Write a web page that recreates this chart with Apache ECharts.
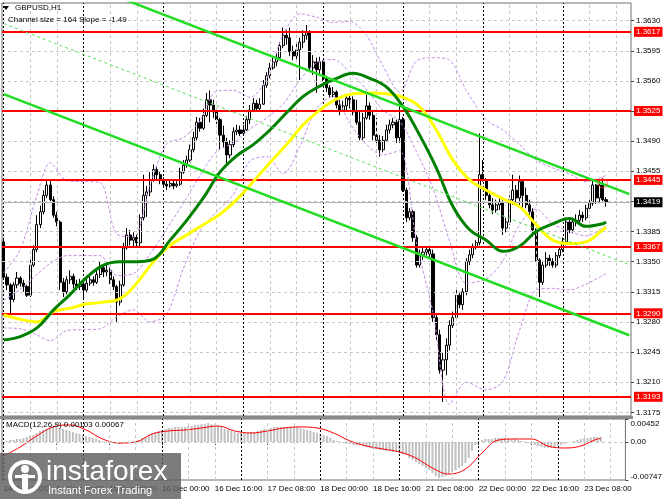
<!DOCTYPE html>
<html><head><meta charset="utf-8">
<script src="https://cdn.jsdelivr.net/npm/echarts@6/dist/echarts.min.js"></script>
<style>html,body{margin:0;padding:0;background:#fff}#c{width:665px;height:499px}</style>
</head><body><div id="c"></div>
<script>
// ---------- DATA ----------
const opens = [1.3373,1.3332,1.3323,1.3306,1.3323,1.3331,1.3325,1.3321,1.3311,1.3346,1.3364,1.3393,1.3408,1.3427,1.3439,1.3422,1.3404,1.3396,1.3326,1.3315,1.3329,1.3333,1.3324,1.3321,1.3324,1.3317,1.3325,1.3329,1.3326,1.3335,1.3343,1.3338,1.3340,1.3329,1.3321,1.3303,1.3323,1.3366,1.3381,1.3375,1.3378,1.3372,1.3401,1.3427,1.3431,1.3445,1.3457,1.3451,1.3445,1.3440,1.3438,1.3441,1.3438,1.3440,1.3454,1.3462,1.3468,1.3480,1.3494,1.3512,1.3505,1.3520,1.3538,1.3532,1.3524,1.3515,1.3497,1.3489,1.3474,1.3486,1.3501,1.3503,1.3499,1.3503,1.3515,1.3526,1.3534,1.3528,1.3533,1.3555,1.3566,1.3575,1.3582,1.3587,1.3601,1.3613,1.3610,1.3594,1.3589,1.3596,1.3605,1.3613,1.3616,1.3575,1.3582,1.3573,1.3582,1.3563,1.3552,1.3544,1.3547,1.3532,1.3526,1.3531,1.3540,1.3538,1.3524,1.3512,1.3494,1.3517,1.3531,1.3520,1.3497,1.3491,1.3480,1.3491,1.3503,1.3509,1.3512,1.3494,1.3515,1.3433,1.3401,1.3408,1.3378,1.3346,1.3358,1.3361,1.3364,1.3359,1.3285,1.3265,1.3224,1.3236,1.3253,1.3276,1.3285,1.3311,1.3300,1.3315,1.3350,1.3358,1.3367,1.3372,1.3451,1.3445,1.3427,1.3416,1.3410,1.3416,1.3419,1.3389,1.3396,1.3422,1.3433,1.3424,1.3443,1.3427,1.3416,1.3408,1.3387,1.3352,1.3326,1.3346,1.3354,1.3350,1.3346,1.3357,1.3364,1.3373,1.3396,1.3387,1.3396,1.3398,1.3404,1.3401,1.3412,1.3418,1.3439,1.3424,1.3439,1.3422];
const closes = [1.3332,1.3323,1.3306,1.3323,1.3331,1.3325,1.3321,1.3311,1.3346,1.3364,1.3393,1.3408,1.3427,1.3439,1.3422,1.3404,1.3396,1.3326,1.3315,1.3329,1.3333,1.3324,1.3321,1.3324,1.3317,1.3325,1.3329,1.3326,1.3335,1.3343,1.3338,1.3340,1.3329,1.3321,1.3303,1.3323,1.3366,1.3381,1.3375,1.3378,1.3372,1.3401,1.3427,1.3431,1.3445,1.3457,1.3451,1.3445,1.3440,1.3438,1.3441,1.3438,1.3440,1.3454,1.3462,1.3468,1.3480,1.3494,1.3512,1.3505,1.3520,1.3538,1.3532,1.3524,1.3515,1.3497,1.3489,1.3474,1.3486,1.3501,1.3503,1.3499,1.3503,1.3515,1.3526,1.3534,1.3528,1.3533,1.3555,1.3566,1.3575,1.3582,1.3587,1.3601,1.3613,1.3610,1.3594,1.3589,1.3596,1.3605,1.3613,1.3616,1.3575,1.3582,1.3573,1.3582,1.3563,1.3552,1.3544,1.3547,1.3532,1.3526,1.3531,1.3540,1.3538,1.3524,1.3512,1.3494,1.3517,1.3531,1.3520,1.3497,1.3491,1.3480,1.3491,1.3503,1.3509,1.3512,1.3494,1.3515,1.3433,1.3401,1.3408,1.3378,1.3346,1.3358,1.3361,1.3364,1.3359,1.3285,1.3265,1.3224,1.3236,1.3253,1.3276,1.3285,1.3311,1.3300,1.3315,1.3350,1.3358,1.3367,1.3372,1.3451,1.3445,1.3427,1.3416,1.3410,1.3416,1.3419,1.3389,1.3396,1.3422,1.3433,1.3424,1.3443,1.3427,1.3416,1.3408,1.3387,1.3352,1.3326,1.3346,1.3354,1.3350,1.3346,1.3357,1.3364,1.3373,1.3396,1.3387,1.3396,1.3398,1.3404,1.3401,1.3412,1.3418,1.3439,1.3424,1.3439,1.3422,1.3419];
const highs = [1.3378,1.3336,1.3325,1.3326,1.3338,1.3333,1.3329,1.3323,1.3352,1.3369,1.3404,1.3415,1.3433,1.3445,1.3446,1.3426,1.3408,1.3398,1.3331,1.3333,1.3340,1.3336,1.3329,1.3330,1.3326,1.3331,1.3335,1.3333,1.3340,1.3350,1.3346,1.3347,1.3344,1.3333,1.3323,1.3328,1.3372,1.3389,1.3387,1.3384,1.3382,1.3405,1.3451,1.3438,1.3454,1.3463,1.3461,1.3454,1.3448,1.3445,1.3446,1.3444,1.3445,1.3459,1.3468,1.3473,1.3486,1.3501,1.3518,1.3517,1.3528,1.3546,1.3549,1.3538,1.3528,1.3517,1.3508,1.3494,1.3491,1.3506,1.3509,1.3508,1.3509,1.3519,1.3532,1.3540,1.3538,1.3540,1.3561,1.3570,1.3581,1.3587,1.3592,1.3605,1.3622,1.3619,1.3622,1.3601,1.3603,1.3610,1.3619,1.3625,1.3619,1.3590,1.3587,1.3588,1.3584,1.3566,1.3555,1.3553,1.3549,1.3538,1.3537,1.3544,1.3545,1.3542,1.3538,1.3524,1.3523,1.3544,1.3535,1.3524,1.3517,1.3497,1.3496,1.3509,1.3515,1.3517,1.3515,1.3532,1.3518,1.3436,1.3412,1.3410,1.3381,1.3364,1.3366,1.3368,1.3366,1.3364,1.3288,1.3271,1.3245,1.3261,1.3282,1.3292,1.3317,1.3315,1.3319,1.3354,1.3364,1.3371,1.3375,1.3499,1.3468,1.3447,1.3433,1.3424,1.3422,1.3424,1.3422,1.3401,1.3427,1.3451,1.3439,1.3450,1.3445,1.3436,1.3422,1.3412,1.3389,1.3354,1.3350,1.3361,1.3358,1.3354,1.3361,1.3368,1.3378,1.3401,1.3401,1.3401,1.3405,1.3410,1.3408,1.3416,1.3424,1.3445,1.3440,1.3445,1.3447,1.3425];
const lows = [1.3330,1.3317,1.3290,1.3303,1.3319,1.3321,1.3315,1.3309,1.3309,1.3344,1.3361,1.3389,1.3405,1.3424,1.3418,1.3401,1.3391,1.3317,1.3309,1.3312,1.3324,1.3319,1.3317,1.3317,1.3306,1.3315,1.3322,1.3322,1.3324,1.3331,1.3332,1.3333,1.3324,1.3317,1.3280,1.3299,1.3321,1.3364,1.3369,1.3368,1.3366,1.3368,1.3398,1.3402,1.3426,1.3443,1.3445,1.3440,1.3436,1.3433,1.3436,1.3434,1.3436,1.3438,1.3452,1.3459,1.3466,1.3477,1.3491,1.3501,1.3503,1.3518,1.3512,1.3517,1.3510,1.3480,1.3482,1.3460,1.3470,1.3483,1.3497,1.3496,1.3496,1.3502,1.3510,1.3524,1.3524,1.3526,1.3532,1.3552,1.3563,1.3573,1.3577,1.3584,1.3598,1.3602,1.3589,1.3584,1.3584,1.3561,1.3598,1.3608,1.3570,1.3567,1.3546,1.3568,1.3559,1.3547,1.3540,1.3541,1.3528,1.3520,1.3524,1.3524,1.3528,1.3520,1.3509,1.3491,1.3491,1.3515,1.3515,1.3491,1.3486,1.3472,1.3477,1.3489,1.3499,1.3505,1.3488,1.3488,1.3431,1.3396,1.3398,1.3373,1.3343,1.3343,1.3352,1.3357,1.3355,1.3280,1.3259,1.3220,1.3187,1.3218,1.3247,1.3273,1.3282,1.3296,1.3294,1.3311,1.3346,1.3354,1.3364,1.3369,1.3443,1.3422,1.3412,1.3405,1.3407,1.3410,1.3381,1.3384,1.3393,1.3416,1.3419,1.3416,1.3410,1.3412,1.3404,1.3379,1.3350,1.3309,1.3323,1.3343,1.3345,1.3343,1.3343,1.3354,1.3361,1.3369,1.3383,1.3383,1.3391,1.3396,1.3396,1.3398,1.3410,1.3415,1.3417,1.3418,1.3419,1.3414];

// moving averages & Bollinger bands, [bar index, price]
const maGreen = [[0,1.3259],[5,1.3263],[10,1.3273],[15,1.3294],[20,1.3312],[25,1.3332],[30,1.3346],[35,1.3350],[40,1.3350],[45,1.3353],[50,1.3375],[55,1.3398],[60,1.3424],[65,1.3454],[70,1.3473],[75,1.3486],[80,1.3503],[85,1.3523],[90,1.3542],[95,1.3554],[100,1.3563],[105,1.3569],[110,1.3563],[115,1.3553],[120,1.3530],[125,1.3497],[130,1.3459],[135,1.3414],[140,1.3387],[145,1.3375],[150,1.3362],[155,1.3368],[160,1.3385],[165,1.3394],[170,1.3400],[175,1.3391],[180,1.3394],[181,1.3396]];
const maYellow = [[0,1.3288],[5,1.3283],[10,1.3280],[15,1.3292],[20,1.3296],[25,1.3301],[30,1.3303],[35,1.3307],[40,1.3325],[45,1.3350],[50,1.3369],[55,1.3381],[60,1.3393],[65,1.3405],[70,1.3422],[75,1.3443],[80,1.3465],[85,1.3486],[90,1.3509],[95,1.3526],[100,1.3539],[105,1.3545],[110,1.3546],[115,1.3545],[120,1.3541],[125,1.3530],[130,1.3503],[135,1.3468],[140,1.3445],[145,1.3433],[150,1.3423],[155,1.3414],[160,1.3393],[165,1.3375],[170,1.3371],[175,1.3373],[180,1.3387],[181,1.3390]];
const bandUpper = [[0,1.3337],[5,1.3364],[10,1.3427],[14,1.3465],[19,1.3444],[24,1.3443],[29,1.3442],[34,1.3382],[39,1.3379],[44,1.3439],[49,1.3487],[54,1.3494],[59,1.3514],[64,1.3548],[69,1.3549],[74,1.3541],[79,1.3562],[84,1.3614],[89,1.3638],[94,1.3634],[99,1.3628],[104,1.3629],[109,1.3613],[114,1.3577],[119,1.3547],[124,1.3583],[129,1.3587],[134,1.3584],[139,1.3549],[145,1.3515],[150,1.3503],[155,1.3486],[160,1.3468],[165,1.3459],[170,1.3452],[175,1.3443],[181,1.3450]];
const bandMid = [[0,1.3305],[5,1.3318],[10,1.3335],[14,1.3348],[19,1.3357],[24,1.3357],[29,1.3357],[34,1.3334],[39,1.3336],[44,1.3359],[49,1.3388],[54,1.3418],[59,1.3450],[64,1.3478],[69,1.3488],[74,1.3504],[79,1.3517],[84,1.3533],[89,1.3561],[94,1.3581],[99,1.3585],[104,1.3570],[109,1.3550],[114,1.3526],[119,1.3513],[124,1.3478],[129,1.3435],[134,1.3374],[139,1.3325],[145,1.3330],[150,1.3351],[155,1.3393],[160,1.3411],[165,1.3394],[170,1.3385],[175,1.3380],[181,1.3392]];
const bandLower = [[0,1.3273],[5,1.3272],[10,1.3265],[14,1.3258],[19,1.3270],[24,1.3271],[29,1.3272],[34,1.3286],[39,1.3294],[44,1.3280],[49,1.3289],[54,1.3342],[59,1.3386],[64,1.3408],[69,1.3428],[74,1.3467],[79,1.3472],[84,1.3452],[89,1.3484],[94,1.3528],[99,1.3542],[104,1.3511],[109,1.3486],[114,1.3474],[119,1.3479],[124,1.3373],[129,1.3291],[134,1.3184],[139,1.3210],[145,1.3201],[150,1.3211],[155,1.3270],[160,1.3317],[165,1.3319],[170,1.3317],[175,1.3324],[181,1.3336]];

// equidistant channel (size 164 pips, slope -1.49)
const channelUpper = [[0,1.37086],[188,1.34285]];
const channelMid = [[0,1.36266],[188,1.33465]];
const channelLower = [[0,1.35446],[188,1.32645]];

const levels = [1.3617,1.3525,1.3445,1.3367,1.3290,1.3193];
const lastPrice = 1.3419;
const alertMark = [[180,1.3441]];

const gridPrices = [1.3175,1.3210,1.3245,1.3280,1.3315,1.3350,1.3385,1.3420,1.3455,1.3490,1.3525,1.3560,1.3595,1.3630];
const priceLabels = [1.3175,1.3210,1.3245,1.3280,1.3315,1.3350,1.3385,1.3455,1.3490,1.3560,1.3595,1.3630];
const gridBars = [8,16,32,40,56,64,80,88,104,112,128,136,152,160,176,184];
const sepBars = [0,24,48,72,96,120,144,168];
const timeLabelIdx = [0,16,32,48,64,80,96,112,128,144,160,176];
const timeLabels = ['14 Dec 2020','14 Dec 16:00','15 Dec 08:00','16 Dec 00:00','16 Dec 16:00','17 Dec 08:00','18 Dec 00:00','18 Dec 16:00','21 Dec 08:00','22 Dec 00:00','22 Dec 16:00','23 Dec 08:00'];

const macdHist = [0,0.0002,0.00039,0.00039,0.00059,0.00059,0.00079,0.00099,0.00118,0.00138,0.00177,0.00217,0.00236,0.00256,0.00276,0.00296,0.00296,0.00276,0.00256,0.00236,0.00217,0.00197,0.00177,0.00158,0.00138,0.00118,0.00099,0.00079,0.00059,0.00039,0.0002,0.00005,-0.00005,-0.0002,-0.0002,-0.00039,-0.00039,-0.0002,-0.0002,0.00005,0.0002,0.00039,0.00079,0.00099,0.00138,0.00158,0.00197,0.00217,0.00236,0.00256,0.00276,0.00276,0.00296,0.00296,0.00296,0.00296,0.00315,0.00315,0.00335,0.00335,0.00355,0.00355,0.00374,0.00355,0.00335,0.00315,0.00296,0.00256,0.00236,0.00217,0.00197,0.00177,0.00177,0.00177,0.00177,0.00197,0.00197,0.00217,0.00236,0.00256,0.00256,0.00276,0.00296,0.00296,0.00296,0.00296,0.00296,0.00296,0.00296,0.00296,0.00276,0.00256,0.00236,0.00217,0.00197,0.00177,0.00158,0.00138,0.00118,0.00079,0.00039,0.0002,0.00005,-0.0002,-0.00039,-0.00039,-0.00059,-0.00059,-0.00059,-0.00079,-0.00099,-0.00118,-0.00138,-0.00138,-0.00158,-0.00158,-0.00177,-0.00177,-0.00197,-0.00197,-0.00217,-0.00236,-0.00256,-0.00315,-0.00355,-0.00394,-0.00433,-0.00473,-0.00512,-0.00552,-0.00611,-0.0067,-0.00709,-0.0069,-0.0067,-0.0063,-0.00591,-0.00552,-0.00512,-0.00473,-0.00414,-0.00315,-0.00177,-0.00059,0.0002,0.00039,0.00059,0.00059,0.00059,0.00079,0.00079,0.00079,0.00079,0.00079,0.00059,0.00059,0.00039,0.0002,0.00005,-0.0002,-0.00039,-0.00059,-0.00079,-0.00099,-0.00118,-0.00118,-0.00118,-0.00099,-0.00079,-0.00059,-0.00039,-0.0002,0.00005,0.0002,0.00039,0.00059,0.00069,0.00079,0.00089,0.00099,0.001,0.00103];
const macdSignal = [[0,-0.00276],[5,-0.00099],[10,0.00118],[15,0.00296],[20,0.00335],[25,0.00236],[30,0.00059],[35,-0.0002],[40,0],[45,0.00158],[50,0.00217],[55,0.00236],[60,0.00276],[65,0.00315],[70,0.00217],[75,0.00177],[80,0.00217],[85,0.00276],[90,0.00296],[95,0.00276],[100,0.00177],[105,0.0002],[110,-0.00079],[115,-0.00138],[120,-0.00197],[125,-0.00315],[130,-0.00512],[135,-0.0063],[140,-0.00532],[145,-0.00217],[150,0.00039],[155,0.00059],[160,0.00059],[165,-0.00079],[170,-0.00118],[175,-0.00079],[180,0.0006],[181,0.00067]];
const macdTicks = [0.00452,0,-0.00747];

// ---------- CHART ----------
const F = '"Liberation Sans", Arial, sans-serif';
const barCount = 189;
const cats = Array.from({length: barCount}, (_, i) => i);
const candles = closes.map((c, i) => [opens[i], c, lows[i], highs[i]]);

const gridLineStyle = {color:'#c6c6c6', type:[3,3], width:1};
const sepLineStyle = {color:'#000', type:[2,2], width:1};
const vLines = [
  ...gridBars.map(b => ({xAxis: b, lineStyle: gridLineStyle})),
  ...sepBars.map(b => ({xAxis: b, lineStyle: sepLineStyle}))
];

const lvlLabel = {show:true, position:'end', distance:3, formatter: p => Number(p.value).toFixed(4),
  color:'#fff', backgroundColor:'#ff0000', fontSize:8, fontFamily:F, padding:[1,2,0,2], lineHeight:9};
const bandStyle = {color:'#c48ae6', width:1, type:[3,2]};

const chart = echarts.init(document.getElementById('c'));
chart.setOption({
  animation:false,
  backgroundColor:'#fff',
  textStyle:{fontFamily:F},
  grid:[
    {left:2, top:3, width:629, height:413, show:true, borderColor:'#707070', borderWidth:1},
    {left:2, top:419, width:629, height:61, show:true, borderColor:'#707070', borderWidth:1}
  ],
  xAxis:[
    {type:'category', gridIndex:0, data:cats, boundaryGap:true, axisLine:{show:false}, axisTick:{show:false}, axisLabel:{show:false}, splitLine:{show:false}},
    {type:'category', gridIndex:1, data:cats, boundaryGap:true, axisLine:{show:false},
      axisTick:{show:true, alignWithLabel:true, length:3, interval:(i)=>timeLabelIdx.includes(i), lineStyle:{color:'#444'}},
      axisLabel:{show:true, interval:(i)=>timeLabelIdx.includes(i), formatter:(v,i)=>timeLabels[timeLabelIdx.indexOf(i)] || '', align:'left', fontSize:8, color:'#000', margin:5, fontFamily:F},
      splitLine:{show:false}}
  ],
  yAxis:[
    {type:'value', gridIndex:0, position:'right', min:1.31707, max:1.36505, scale:true,
      axisLine:{show:false}, splitLine:{show:false},
      axisTick:{show:true, customValues:gridPrices, length:3, lineStyle:{color:'#444'}},
      axisLabel:{show:true, customValues:priceLabels, formatter:v=>v.toFixed(4), fontSize:8, color:'#000', margin:5, fontFamily:F}},
    {type:'value', gridIndex:1, position:'right', min:-0.00747, max:0.00452,
      axisLine:{show:false}, splitLine:{show:false},
      axisTick:{show:true, customValues:macdTicks, length:3, lineStyle:{color:'#444'}},
      axisLabel:{show:true, customValues:macdTicks, margin:5,
        formatter:v=> v===0 ? '{m|0.00}' : (v>0 ? '{t|'+v.toFixed(5)+'}' : '{b|'+v.toFixed(5)+'}'),
        rich:{m:{fontSize:8,color:'#000',fontFamily:F}, t:{fontSize:8,color:'#000',fontFamily:F,padding:[9,0,0,0]}, b:{fontSize:8,color:'#000',fontFamily:F,padding:[0,0,6,0]}}}}
  ],
  series:[
    {type:'line', xAxisIndex:0, yAxisIndex:0, data:[], z:1, silent:true,
      markLine:{silent:true, symbol:'none', animation:false, precision:6, label:{show:false},
        data:[...gridPrices.map(v=>({yAxis:v, lineStyle:gridLineStyle})), ...vLines]}},
    {type:'line', xAxisIndex:1, yAxisIndex:1, data:[], z:1, silent:true,
      markLine:{silent:true, symbol:'none', animation:false, precision:6, label:{show:false},
        data:[{yAxis:0, lineStyle:gridLineStyle}, ...vLines]}},
    {type:'candlestick', xAxisIndex:0, yAxisIndex:0, data:candles, z:2, barWidth:2.6,
      itemStyle:{color:'#ffffff', color0:'#000000', borderColor:'#000000', borderColor0:'#000000', borderWidth:1}},
    {type:'line', xAxisIndex:0, yAxisIndex:0, data:[], z:3, silent:true,
      markLine:{silent:true, symbol:'none', animation:false, precision:6,
        data:[...levels.map(v=>({yAxis:v, lineStyle:{color:'#ff0000', width:2, type:'solid'}, label:lvlLabel})),
          {yAxis:lastPrice, lineStyle:{color:'#b4b4b4', width:1, type:'solid'}, label:Object.assign({}, lvlLabel, {backgroundColor:'#000'})}]}},
    {type:'line', xAxisIndex:0, yAxisIndex:0, data:bandUpper, smooth:0.3, symbol:'none', z:4, lineStyle:bandStyle},
    {type:'line', xAxisIndex:0, yAxisIndex:0, data:bandMid, smooth:0.3, symbol:'none', z:4, lineStyle:bandStyle},
    {type:'line', xAxisIndex:0, yAxisIndex:0, data:bandLower, smooth:0.3, symbol:'none', z:4, lineStyle:bandStyle},
    {type:'line', xAxisIndex:0, yAxisIndex:0, data:maYellow, smooth:0.4, symbol:'none', z:5, lineStyle:{color:'#ffff00', width:3}},
    {type:'line', xAxisIndex:0, yAxisIndex:0, data:maGreen, smooth:0.4, symbol:'none', z:6, lineStyle:{color:'#008000', width:3}},
    {type:'line', xAxisIndex:0, yAxisIndex:0, data:channelUpper, symbol:'none', z:7, lineStyle:{color:'#22dd22', width:2.5}},
    {type:'line', xAxisIndex:0, yAxisIndex:0, data:channelLower, symbol:'none', z:7, lineStyle:{color:'#22dd22', width:2.5}},
    {type:'line', xAxisIndex:0, yAxisIndex:0, data:channelMid, symbol:'none', z:7, lineStyle:{color:'#55e055', width:1, type:[3,3]}},
    {type:'scatter', xAxisIndex:0, yAxisIndex:0, data:alertMark, z:8, symbol:'circle', symbolSize:9,
      itemStyle:{color:'rgba(0,0,0,0)', borderColor:'#ff4040', borderWidth:1}},
    {type:'bar', xAxisIndex:1, yAxisIndex:1, data:macdHist, barWidth:2, z:2, itemStyle:{color:'#c0c0c0'}},
    {type:'line', xAxisIndex:1, yAxisIndex:1, data:macdSignal, smooth:0.4, symbol:'none', z:3, lineStyle:{color:'#ff0000', width:1}}
  ],
  graphic:[
    {type:'rect', shape:{x:0, y:416, width:633, height:3}, style:{fill:'#8a8a8a'}, z:100},
    {type:'polygon', shape:{points:[[3,6],[9,6],[6,10]]}, style:{fill:'#000'}, z:100},
    {type:'text', x:15, y:8, style:{text:'GBPUSD,H1', font:'8px '+F, fill:'#000', verticalAlign:'middle'}, z:100},
    {type:'text', x:8, y:20, style:{text:'Channel size = 164 Slope = -1.49', font:'8px '+F, fill:'#000', verticalAlign:'middle'}, z:100},
    {type:'text', x:6, y:425, style:{text:'MACD(12,26,9) 0.00103 0.00067', font:'8px '+F, fill:'#000', verticalAlign:'middle'}, z:100},
    {type:'rect', shape:{x:0, y:453, width:181, height:46}, style:{fill:'rgba(95,95,95,0.82)'}, z:100},
    {type:'ring', shape:{cx:25, cy:477, r:17, r0:13}, style:{fill:'#ffffff'}, z:101},
    {type:'circle', shape:{cx:25, cy:469, r:4}, style:{fill:'#ffffff'}, z:101},
    {type:'rect', shape:{x:22, y:474, width:6, height:16}, style:{fill:'#ffffff'}, z:101},
    {type:'rect', shape:{x:15, y:475, width:20, height:3}, style:{fill:'#ffffff'}, z:101},
    {type:'text', x:46, y:472, style:{text:'instaforex', font:'28px '+F, fill:'#ffffff', verticalAlign:'middle'}, z:101},
    {type:'text', x:48, y:491, style:{text:'Instant Forex Trading', font:'11px '+F, fill:'#ffffff', verticalAlign:'middle'}, z:101}
  ]
});
</script>
</body></html>
